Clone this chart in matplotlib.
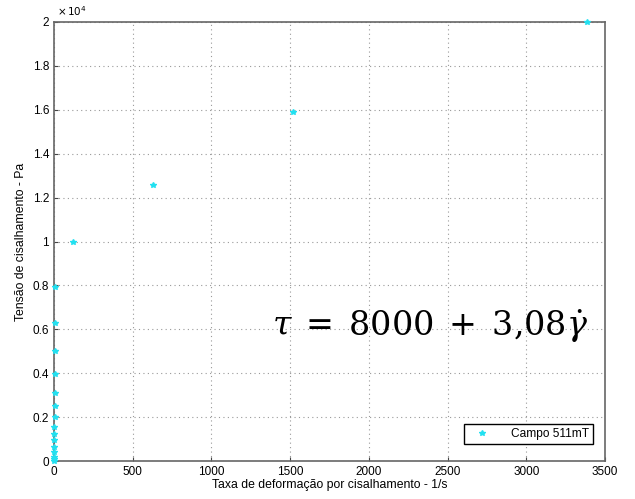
import matplotlib
matplotlib.use("Agg")
import matplotlib.pyplot as plt
from matplotlib.ticker import FuncFormatter

# Data (shear rate 1/s, shear stress Pa)
shear_rate = [0.2, 0.3, 0.5, 0.7, 1.0, 1.4, 2.0, 2.8, 3.5, 4.5, 5.5, 6.5, 7.5, 8.5,
              6, 121, 629, 1518, 3386]
shear_stress = [0, 100, 200, 400, 650, 950, 1250, 1550, 2000, 2500, 3100, 3950,
                5000, 6270, 7950, 9980, 12580, 15900, 20000]

x_ticks = [0, 500, 1000, 1500, 2000, 2500, 3000, 3500]
y_ticks = [0, 2000, 4000, 6000, 8000, 10000, 12000, 14000, 16000, 18000, 20000]

plt.rcParams['font.family'] = ['Liberation Sans', 'DejaVu Sans']

fig = plt.figure(figsize=(6.35, 4.99), dpi=100)
ax = fig.add_axes([0.085, 0.076, 0.868, 0.880])

ax.plot(shear_rate, shear_stress, linestyle='none', marker='*', color='#22e0f0',
        markersize=4, label='Campo 511mT', clip_on=False, zorder=5)

ax.set_xlim(0, 3500)
ax.set_ylim(0, 20000)
ax.set_xticks(x_ticks)
ax.set_yticks(y_ticks)
ax.yaxis.set_major_formatter(FuncFormatter(lambda v, p: f'{v / 1e4:g}'))
ax.text(0.005, 1.008, r'$\times\,10^4$', transform=ax.transAxes, fontsize=7.5,
        ha='left', va='bottom')

ax.grid(True, linestyle=(0, (1, 3)), color='#999999', linewidth=0.8)
ax.tick_params(direction='in', labelsize=8.5, color='#444444', length=3)
for s in ax.spines.values():
    s.set_color('#666666')
    s.set_linewidth(1.2)

ax.set_xlabel('Taxa de deformação por cisalhamento - 1/s', fontsize=8.8, labelpad=1)
ax.set_ylabel('Tensão de cisalhamento - Pa', fontsize=8.8, labelpad=4)

fig.text(0.428, 0.345, r'$\tau\;=\;8000\;+\;3{,}08\dot{\gamma}$',
         fontsize=24, ha='left', va='center', math_fontfamily='dejavuserif')

leg = ax.legend(loc='lower right', fontsize=8.6, fancybox=False, edgecolor='black',
                framealpha=1, borderpad=0.35, handlelength=2.4, handletextpad=1.2,
                borderaxespad=0, bbox_to_anchor=(0.978, 0.038))
leg.get_frame().set_linewidth(1.0)

fig.savefig('out.png', dpi=100, facecolor='white')
